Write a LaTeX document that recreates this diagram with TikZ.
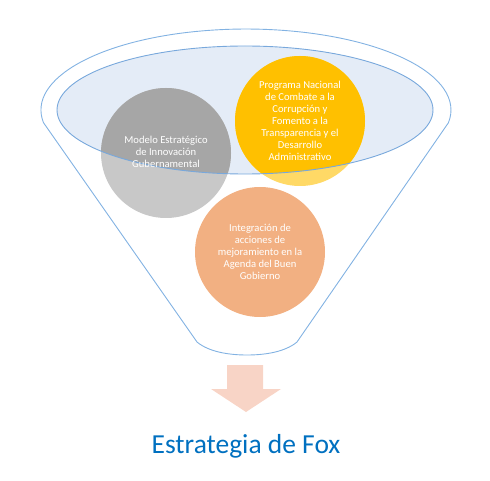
\documentclass[tikz,border=0pt]{standalone}
\usepackage{fontspec}
\setmainfont{Carlito}
\definecolor{funnelline}{RGB}{130,178,226}
\definecolor{ellfill}{RGB}{228,236,247}
\definecolor{ellline}{RGB}{120,168,220}
\definecolor{grayin}{RGB}{166,166,166}
\definecolor{grayout}{RGB}{200,200,200}
\definecolor{yelin}{RGB}{255,192,0}
\definecolor{yelout}{RGB}{255,217,102}
\definecolor{orangeout}{RGB}{242,176,130}
\definecolor{arrowcol}{RGB}{248,212,198}
\definecolor{titlecol}{RGB}{0,112,192}
\tikzset{
  circtext/.style={text=white, font=\fontsize{10.6}{12}\selectfont, align=center},
  funnel/.style={draw=funnelline, line width=0.9pt},
}
\begin{document}
\begin{tikzpicture}[x=1pt,y=1pt]
\useasboundingbox (0,0) rectangle (490,480);
% funnel outline
\draw[funnel] (43.5,357.3) arc[start angle=189, end angle=-9, x radius=205, y radius=81]
  -- (297,138) .. controls (285,128) and (265,125) .. (247,125)
  .. controls (229,125) and (209,128) .. (197,138) -- cycle;
% inner ellipse fill
\fill[ellfill] (245,370) ellipse[x radius=188, y radius=64];
% circles (outside colours)
\fill[grayout] (166,327) circle[radius=65];
\fill[yelout] (300,359) circle[radius=65];
\fill[orangeout] (260,228) circle[radius=65];
% circles inside the ellipse
\begin{scope}
  \clip (245,370) ellipse[x radius=188, y radius=64];
  \fill[grayin] (166,327) circle[radius=65];
  \fill[yelin] (300,359) circle[radius=65];
\end{scope}
\draw[ellline, line width=0.9pt] (245,370) ellipse[x radius=188, y radius=64];
% texts
\node[circtext] (gray) at (166,328) {Modelo Estratégico\\de Innovación\\Gubernamental};
\node[circtext] (yel) at (300,359) {Programa Nacional\\de Combate a la\\Corrupción y\\Fomento a la\\Transparencia y el\\Desarrollo\\Administrativo};
\node[circtext] (ora) at (260,228) {Integración de\\acciones de\\mejoramiento en la\\Agenda del Buen\\Gobierno};
% arrow
\fill[arrowcol] (227,115) -- (263,115) -- (263,91) -- (281,91) -- (246,68) -- (211,91) -- (227,91) -- cycle;
% title
\node[anchor=base, text=titlecol, font=\fontsize{27.5}{32}\selectfont, inner sep=0pt] (title) at (246,27) {Estrategia de Fox};
\end{tikzpicture}
\end{document}
